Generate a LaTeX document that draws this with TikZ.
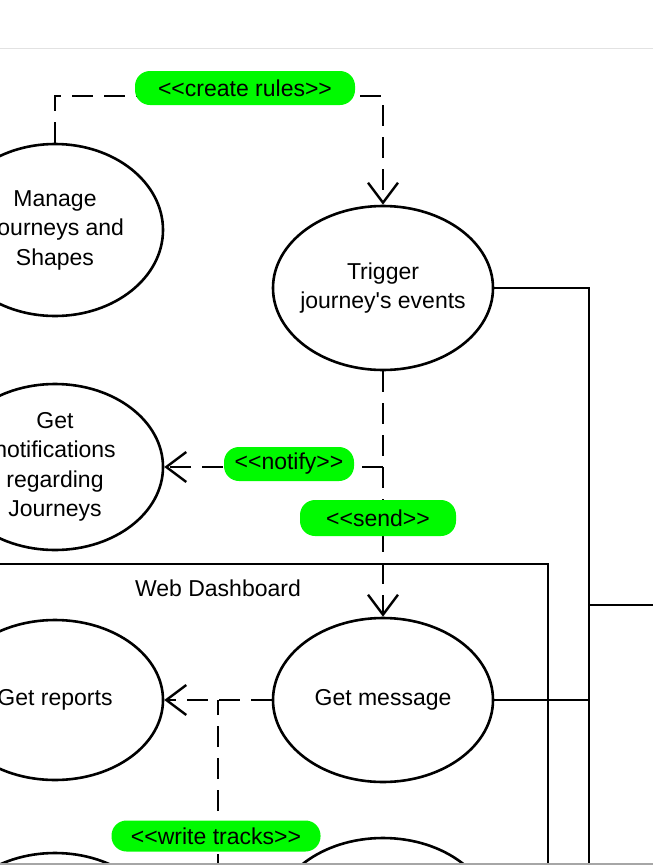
\documentclass[tikz,border=0pt]{standalone}
\usepackage{fontspec}
\setmainfont{Liberation Sans}[Ligatures=TeXOff]
\usepackage{tikz}
\usetikzlibrary{arrows.meta, shapes.geometric, positioning, calc}
\definecolor{hlgreen}{RGB}{0,250,0}
\definecolor{topgray}{RGB}{226,226,226}
\newcommand{\stype}[1]{<{}<#1>{}>}

\tikzset{
	usecase/.style={draw, ellipse, line width=2.6pt, minimum width=218pt, minimum height=164pt,
		inner sep=0pt, align=center, font=\fontsize{23}{29.5}\selectfont},
	depline/.style={line width=2.4pt, dash pattern=on 21pt off 11pt},
	deparrow/.style={depline, -{Straight Barb[length=20pt,width=30pt]}},
	hilite/.style={fill=hlgreen, rounded corners=15pt, inner sep=0pt, font=\fontsize{23}{27}\selectfont},
	assoc/.style={line width=2.3pt}
}

\begin{document}
\begin{tikzpicture}[x=1pt,y=-1pt]
	\useasboundingbox (0,0) rectangle (653,865);
	\clip (0,0) rectangle (653,865);
	\draw[topgray, line width=1pt] (0,48) -- (653,48);

	% use cases
	\node[usecase, minimum width=216pt, minimum height=172pt] (manage) at (55,230) {Manage\\Journeys and\\Shapes};
	\node[usecase, minimum width=220pt, inner xsep=-6pt] (trigger) at (383,288) {Trigger\\journey's events};
	\node[usecase, minimum width=216pt, minimum height=166pt] (notif) at (55,467) {Get\\notifications\\regarding\\Journeys};
	\node[usecase, minimum width=216pt, minimum height=160pt] (reports) at (55,700) {Get reports};
	\node[usecase, minimum width=220pt] (message) at (383,700) {Get message};
	\node[usecase, minimum width=216pt] (lowleft) at (55,935) {};
	\node[usecase, minimum width=220pt] (lowright) at (383,920) {};

	% system boundary
	\draw[assoc] (-5,564) -| (548,875);
	\node[font=\fontsize{23}{27}\selectfont] (webdash) at (218,588) {Web Dashboard};

	% actor lines
	\coordinate (actorbus) at (589,288);
	\coordinate (actorfoot) at (589,875);
	\coordinate (actorjoin) at (589,605);
	\coordinate (actorstub) at (660,605);
	\draw[assoc] (trigger.east) -- (actorbus) -- (actorfoot);
	\draw[assoc] (actorjoin) -- (actorstub);
	\draw[assoc] (message.east) -- (message.east -| actorbus);

	% dependencies
	\coordinate (rulescorner) at (383,96);
	\draw[deparrow] (manage.north) |- (rulescorner) -- (trigger.north);
	\draw[deparrow] (trigger.south) -- (message.north);
	\coordinate (notifyjoin) at (trigger.south |- notif.east);
	\draw[deparrow] (notifyjoin) -- (notif.east);
	\draw[deparrow] (message.west) -- (reports.east);
	\coordinate (tracksjoin) at (218,700);
	\coordinate (tracksfoot) at (218,875);
	\draw[depline] (tracksfoot) -- (tracksjoin);

	% highlighted labels
	\node[hilite, minimum width=220pt, minimum height=34pt] (rules) at (245,88) {\stype{create rules}};
	\node[hilite, minimum width=130pt, minimum height=34pt] (notify) at (289,464) {\stype{notify}};
	\node[hilite, minimum width=156pt, minimum height=36pt] (send) at (378,518) {\stype{send}};
	\node[hilite, minimum width=209pt, minimum height=31pt] (tracks) at (216,836) {\stype{write tracks}};

	\draw[gray!70, line width=1.5pt] (0,864) -- (653,864);
\end{tikzpicture}
\end{document}
